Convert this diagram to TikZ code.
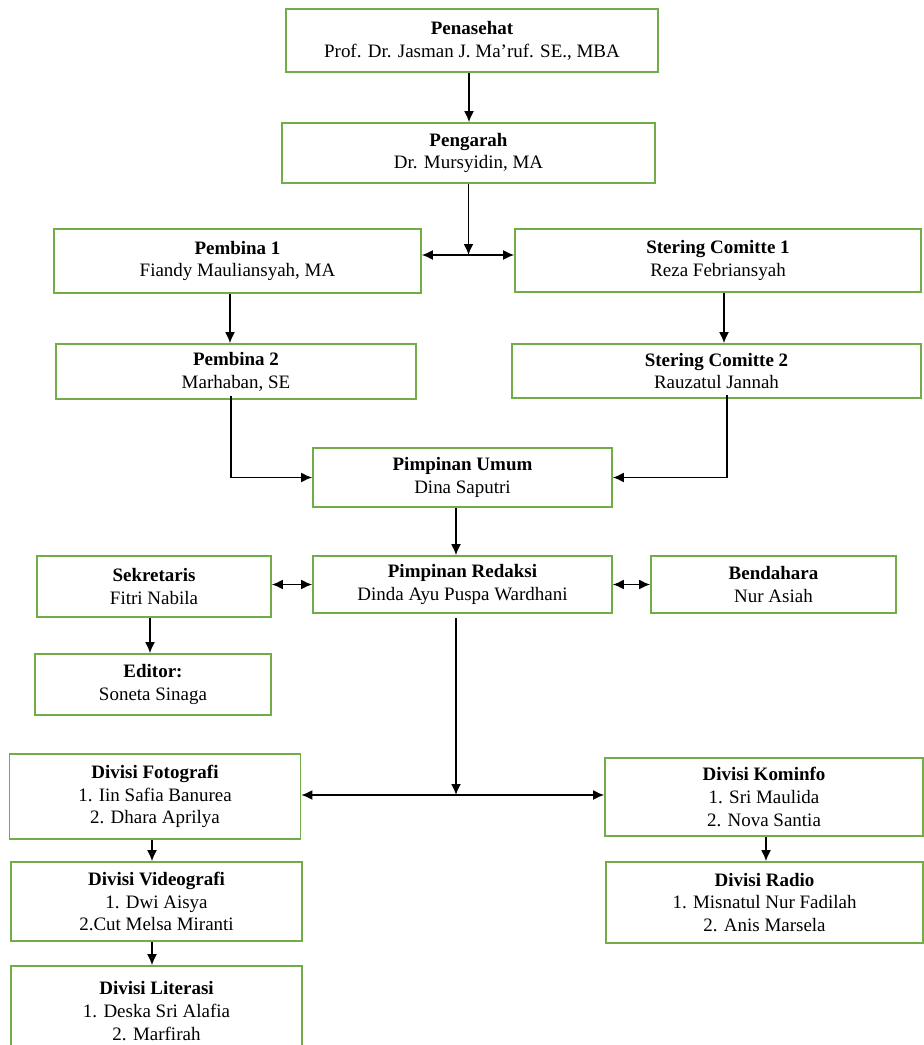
\documentclass[tikz,border=0pt]{standalone}
\usepackage{fontspec}
\setmainfont{Liberation Serif}
\usepackage{tikz}
\usepackage{xcolor}
\usetikzlibrary{arrows.meta}
\usetikzlibrary{positioning}

\definecolor{boxgreen}{RGB}{112,173,71}

\begin{document}
\begin{tikzpicture}[
		box/.style={draw=boxgreen, line width=0.9pt, align=center, inner sep=1pt,
			font=\fontsize{10.8pt}{13pt}\selectfont},
		lnk/.style={-{Latex[length=2.2mm,width=2mm]}, line width=1pt},
		lnks/.style={{Latex[length=2.2mm,width=2mm]}-{Latex[length=2.2mm,width=2mm]}, line width=1pt}]
				\useasboundingbox (0,0) rectangle (18.46,-20.9);
				% top of the chart
				\node[box, minimum width=7.44cm, minimum height=1.26cm] (penasehat) at ( 9.44, -0.81) {\textbf{Penasehat}\\Prof. Dr. Jasman J. Ma'ruf. SE., MBA};
				\node[box, minimum width=7.46cm, minimum height=1.20cm] (pengarah) at ( 9.37, -3.06) {\textbf{Pengarah}\\Dr. Mursyidin, MA};
				\node[box, minimum width=7.34cm, minimum height=1.28cm] (pembina1) at ( 4.75, -5.22) {\textbf{Pembina 1}\\Fiandy Mauliansyah, MA};
				\node[box, minimum width=8.12cm, minimum height=1.26cm] (stering1) at (14.36, -5.21) {\textbf{Stering Comitte 1}\\Reza Febriansyah};
				\node[box, minimum width=7.20cm, minimum height=1.10cm] (pembina2) at ( 4.72, -7.43) {\textbf{Pembina 2}\\Marhaban, SE};
				\node[box, minimum width=8.18cm, minimum height=1.08cm] (stering2) at (14.33, -7.42) {\textbf{Stering Comitte 2}\\Rauzatul Jannah};
				\node[box, minimum width=5.98cm, minimum height=1.18cm] (pimpumum) at ( 9.25, -9.55) {\textbf{Pimpinan Umum}\\Dina Saputri};
				% redaksi
				\node[box, minimum width=4.68cm, minimum height=1.22cm] (sekretaris) at ( 3.08, -11.73) {\textbf{Sekretaris}\\Fitri Nabila};
				\node[box, minimum width=5.98cm, minimum height=1.14cm] (pimpredaksi) at ( 9.25, -11.69) {\textbf{Pimpinan Redaksi}\\Dinda Ayu Puspa Wardhani};
				\node[box, minimum width=4.90cm, minimum height=1.14cm] (bendahara) at (15.47, -11.69) {\textbf{Bendahara}\\Nur Asiah};
				\node[box, minimum width=4.72cm, minimum height=1.22cm] (editor) at ( 3.06, -13.69) {\textbf{Editor:}\\Soneta Sinaga};
				% divisi
				\node[box, minimum width=5.82cm, minimum height=1.70cm] (fotografi) at ( 3.10, -15.93) {\textbf{Divisi Fotografi}\\1. Iin Safia Banurea\\2. Dhara Aprilya};
				\node[box, minimum width=6.36cm, minimum height=1.56cm] (kominfo) at (15.28, -15.94) {\textbf{Divisi Kominfo}\\1. Sri Maulida\\2. Nova Santia};
				\node[box, minimum width=5.82cm, minimum height=1.58cm] (videografi) at ( 3.13, -18.03) {\textbf{Divisi Videografi}\\1. Dwi Aisya\\2.Cut Melsa Miranti};
				\node[box, minimum width=6.34cm, minimum height=1.62cm] (radio) at (15.29, -18.05) {\textbf{Divisi Radio}\\1. Misnatul Nur Fadilah\\2. Anis Marsela};
				\node[box, minimum width=5.82cm, minimum height=1.80cm] (literasi) at ( 3.13, -20.22) {\textbf{Divisi Literasi}\\1. Deska Sri Alafia\\2. Marfirah};
				\coordinate (j1) at ( 9.37, -5.10);
				\coordinate (j2) at ( 9.12, -15.90);
				% connectors
				\draw[lnk] ([xshift=-0.06cm]penasehat.south) to ([xshift=-0.06cm]penasehat.south |- pengarah.north);
				\draw[lnk] (pengarah.south) to (j1);
				\draw[lnks] (pembina1.east |- j1) to (stering1.west |- j1);
				\draw[lnk] ([xshift=-0.15cm]pembina1.south) to ([xshift=-0.15cm]pembina1.south |- pembina2.north);
				\draw[lnk] ([xshift=0.12cm]stering1.south) to ([xshift=0.12cm]stering1.south |- stering2.north);
				\draw[lnk] ([xshift=-0.1cm,yshift=0.08cm]pembina2.south) |- (pimpumum.west);
				\draw[lnk] ([xshift=0.21cm,yshift=0.08cm]stering2.south) |- (pimpumum.east);
				\draw[lnk] ([xshift=-0.13cm]pimpumum.south) to ([xshift=-0.13cm]pimpumum.south |- pimpredaksi.north);
				\draw[lnks] (sekretaris.east |- pimpredaksi) to (pimpredaksi.west);
				\draw[lnks] (pimpredaksi.east) to (bendahara.west);
				\draw[lnk] ([xshift=-0.08cm]sekretaris.south) to ([xshift=-0.08cm]sekretaris.south |- editor.north);
				\draw[lnk] ([xshift=-0.13cm,yshift=-0.08cm]pimpredaksi.south) to (j2);
				\draw[lnks] (fotografi.east |- j2) to (kominfo.west |- j2);
				\draw[lnk] ([xshift=-0.06cm]fotografi.south) to ([xshift=-0.06cm]fotografi.south |- videografi.north);
				\draw[lnk] ([xshift=-0.09cm]videografi.south) to ([xshift=-0.09cm]videografi.south |- literasi.north);
				\draw[lnk] ([xshift=0.04cm]kominfo.south) to ([xshift=0.04cm]kominfo.south |- radio.north);
			\end{tikzpicture}
\end{document}
